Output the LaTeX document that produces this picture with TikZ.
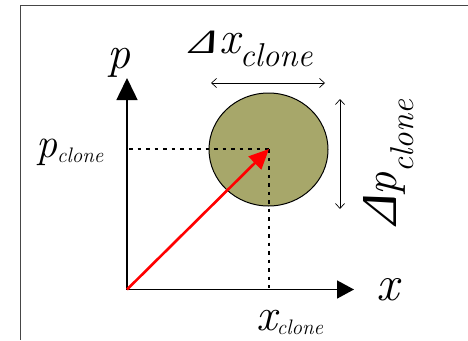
\documentclass[tikz,border=0pt]{standalone}
\usepackage{fontspec}
\newfontfamily\deltafont{Liberation Serif}[FakeSlant=0.2]
\usetikzlibrary{arrows.meta,shapes.geometric}
\definecolor{clonefill}{RGB}{167,167,106}
\definecolor{framegray}{RGB}{70,70,70}
\newcommand\myfs[1]{\fontsize{#1}{#1}\selectfont}
\newcommand\Dlt{{\deltafont Δ}}
\begin{document}
\begin{tikzpicture}[x=1pt,y=-1pt,
  lbl/.style={inner sep=0pt,font=\itshape},
  axisline/.style={line width=1.5pt},
  guide/.style={line width=1.6pt,dash pattern=on 3.5pt off 5pt},
  span/.style={line width=0.7pt,{Straight Barb[length=5pt,width=9pt]}-{Straight Barb[length=5pt,width=9pt]}},
  vec/.style={red,line width=2.6pt,-{Triangle[length=20pt,width=18pt]}}]
\useasboundingbox (0,0) rectangle (468,340);
\draw[framegray,line width=1pt] (468,5.5) -- (20.5,5.5) -- (20.5,340);
% coordinates
\coordinate (O) at (127,289.5);
\coordinate (Ptip) at (127,78);
\coordinate (Xtip) at (354,289.5);
\coordinate (C) at (269,149);
\coordinate (pc) at (129,149);
\coordinate (xc) at (269,288);
\coordinate (dxl) at (211,83);
\coordinate (dxr) at (325,83);
\coordinate (dpt) at (340,99);
\coordinate (dpb) at (340,209);
% blob
\node[draw,ellipse,fill=clonefill,line width=1pt,minimum width=119pt,minimum height=113pt,inner sep=0pt] (blob) at (268.5,149.5) {};
% axes
\draw[axisline,-{Triangle[length=22pt,width=21pt]}] (O) -- (Ptip);
\draw[axisline,-{Triangle[length=17pt,width=18pt]}] (O) -- (Xtip);
% guides
\draw[guide] (pc) -- (C);
\draw[guide] (C) -- (xc);
% vector
\draw[vec] (O) -- (C);
% spans
\draw[span] (dxl) -- (dxr);
\draw[span] (dpt) -- (dpb);
% labels
\node[lbl,anchor=base west] (plab) at (107,68) {\myfs{46}p};
\node[lbl,anchor=base west] (dxlab) at (189,53) {\myfs{34}\scalebox{1.3}[1]{\Dlt}\kern4pt\myfs{46}x\raisebox{-13pt}{\myfs{33}clone}};
\node[lbl,anchor=base west] (pclab) at (36,157) {\myfs{42}p\raisebox{-5pt}{\myfs{21}clone}};
\node[lbl,anchor=base west] (xlab) at (376,300) {\myfs{50}x};
\node[lbl,anchor=base west] (xclab) at (256,330) {\myfs{46}x\raisebox{-4pt}{\myfs{21}clone}};
\node[lbl,anchor=base west,rotate=90] (dplab) at (396,226) {\myfs{50}\Dlt\kern1pt\myfs{46}p\raisebox{-17pt}{\myfs{33}clone}};
\end{tikzpicture}
\end{document}
